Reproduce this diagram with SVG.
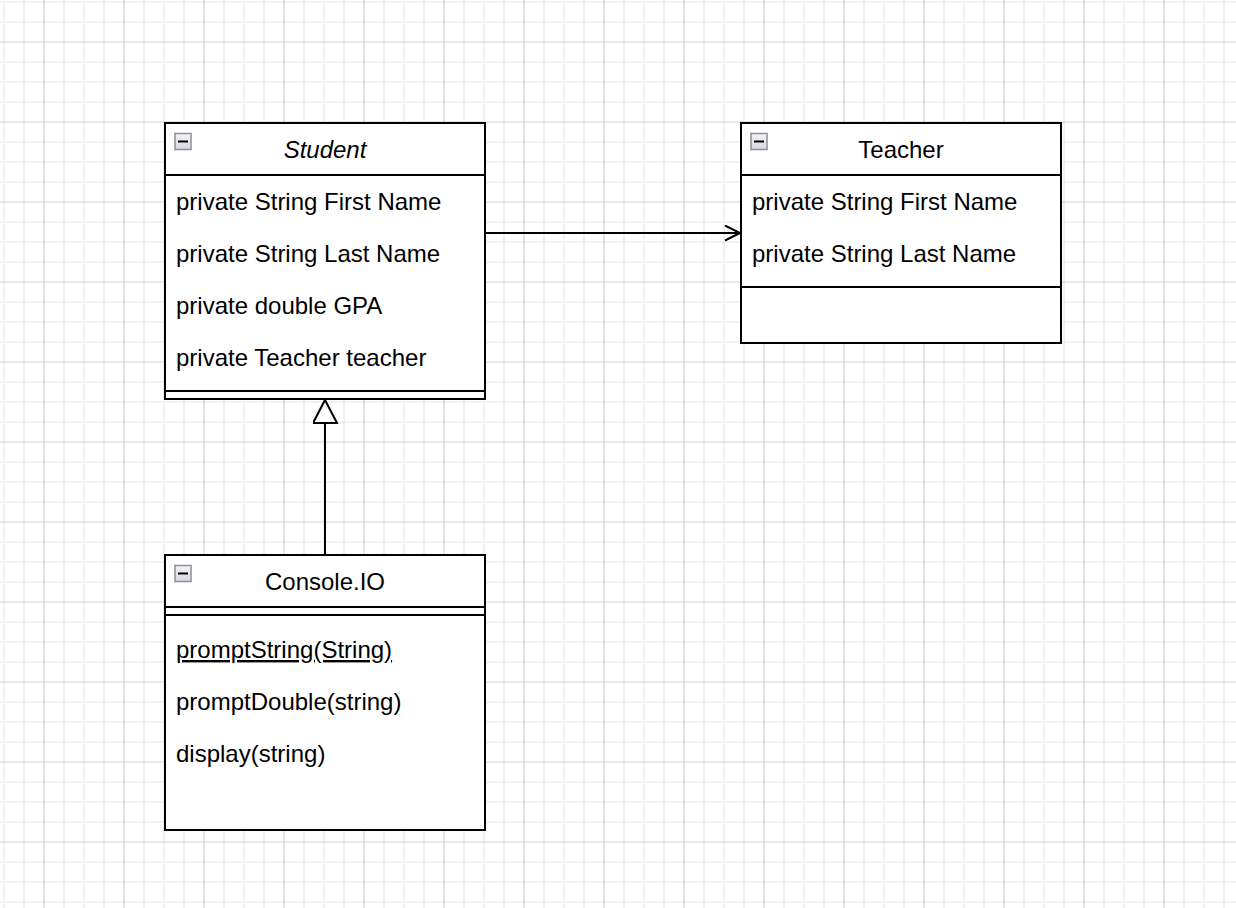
<svg xmlns="http://www.w3.org/2000/svg" width="1236" height="908" viewBox="0 0 1236 908">
<style>
.box{fill:#ffffff;stroke:#000000;stroke-width:2}
.ln{stroke:#000000;stroke-width:2;fill:none}
.t{font-family:"Liberation Sans",Arial,Helvetica,sans-serif;font-size:24px;fill:#000000}
.h{text-anchor:middle}
.it{font-style:italic}
.ico{fill:url(#icoGrad);stroke:#8a8fa3;stroke-width:1.5}
</style>
<defs>
<pattern id="grid" patternUnits="userSpaceOnUse" x="-6" y="-8" width="80" height="80">
<g stroke="#f2f2f2" stroke-width="2">
<line x1="10" y1="0" x2="10" y2="80"/><line x1="30" y1="0" x2="30" y2="80"/><line x1="70" y1="0" x2="70" y2="80"/>
<line x1="0" y1="10" x2="80" y2="10"/><line x1="0" y1="30" x2="80" y2="30"/><line x1="0" y1="70" x2="80" y2="70"/>
</g>
<g stroke="#d0d0d0" stroke-width="1.2">
<line x1="50" y1="0" x2="50" y2="80"/><line x1="0" y1="50" x2="80" y2="50"/>
</g>
</pattern>
<linearGradient id="icoGrad" x1="0" y1="0" x2="0" y2="1">
<stop offset="0" stop-color="#f4f4f6"/><stop offset="1" stop-color="#d8d9de"/>
</linearGradient>
<marker id="open" markerUnits="userSpaceOnUse" markerWidth="20" markerHeight="20" refX="16" refY="8" orient="auto" viewBox="0 0 20 20">
<path d="M1,0.5 L16,8 L1,15.5" fill="none" stroke="#000" stroke-width="2"/>
</marker>
<marker id="tri" markerUnits="userSpaceOnUse" markerWidth="30" markerHeight="30" refX="24" refY="12" orient="auto" viewBox="0 0 30 30">
<path d="M1,0 L24,12 L1,24 Z" fill="#fff" stroke="#000" stroke-width="2"/>
</marker>
</defs>
<rect x="0" y="0" width="1236" height="908" fill="#ffffff"/>
<rect x="0" y="0" width="1236" height="908" fill="url(#grid)"/>

<g id="connectors">
<line class="ln" x1="485" y1="233" x2="740" y2="233" marker-end="url(#open)"/>
<line class="ln" x1="325" y1="555" x2="325" y2="400" marker-end="url(#tri)"/>
</g>

<g id="student">
<rect class="box" x="165" y="123" width="320" height="276"/>
<line class="ln" x1="165" y1="175" x2="485" y2="175"/>
<line class="ln" x1="165" y1="391" x2="485" y2="391"/>
<rect class="ico" x="175" y="133.5" width="16" height="16"/>
<line x1="178" y1="141.5" x2="188" y2="141.5" stroke="#000" stroke-width="2"/>
<text class="t h it" x="325" y="158">Student</text>
<text class="t" x="176" y="210">private String First Name</text>
<text class="t" x="176" y="262">private String Last Name</text>
<text class="t" x="176" y="314">private double GPA</text>
<text class="t" x="176" y="366">private Teacher teacher</text>
</g>

<g id="teacher">
<rect class="box" x="741" y="123" width="320" height="220"/>
<line class="ln" x1="741" y1="175" x2="1061" y2="175"/>
<line class="ln" x1="741" y1="287" x2="1061" y2="287"/>
<rect class="ico" x="751" y="133.5" width="16" height="16"/>
<line x1="754" y1="141.5" x2="764" y2="141.5" stroke="#000" stroke-width="2"/>
<text class="t h" x="901" y="158">Teacher</text>
<text class="t" x="752" y="210">private String First Name</text>
<text class="t" x="752" y="262">private String Last Name</text>
</g>

<g id="consoleio">
<rect class="box" x="165" y="555" width="320" height="275"/>
<line class="ln" x1="165" y1="607" x2="485" y2="607"/>
<line class="ln" x1="165" y1="615" x2="485" y2="615"/>
<rect class="ico" x="175" y="565.5" width="16" height="16"/>
<line x1="178" y1="573.5" x2="188" y2="573.5" stroke="#000" stroke-width="2"/>
<text class="t h" x="325" y="590">Console.IO</text>
<text class="t" x="176" y="658" text-decoration="underline">promptString(String)</text>
<text class="t" x="176" y="710">promptDouble(string)</text>
<text class="t" x="176" y="762">display(string)</text>
</g>
</svg>
